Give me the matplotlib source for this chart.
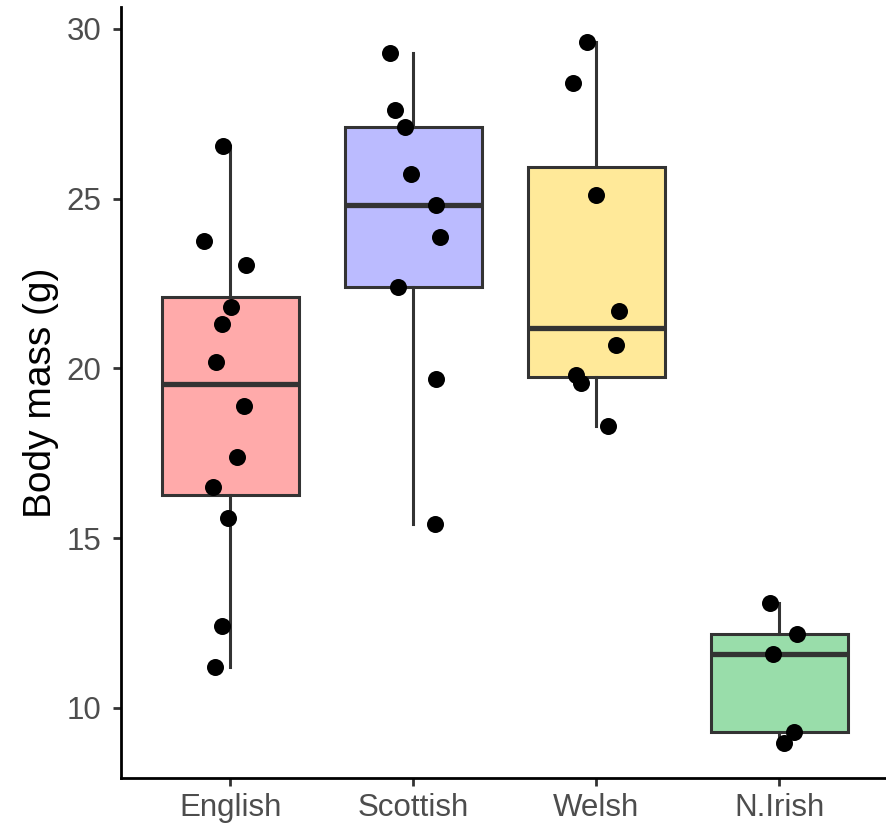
import matplotlib
matplotlib.use("Agg")
import matplotlib.pyplot as plt

plt.rcParams['font.family'] = ['Liberation Sans', 'DejaVu Sans']

categories = ["English", "Scottish", "Welsh", "N.Irish"]
fill_colors = ["#FFAAAA", "#BBBBFF", "#FFE999", "#99DDAA"]

english_mass = [26.55, 23.75, 23.05, 21.8, 21.3, 20.2, 18.9, 17.4, 16.5, 15.6, 12.4, 11.2]
english_jitter = [-0.042, -0.142, 0.084, 0.004, -0.047, -0.080, 0.075, 0.035, -0.093, -0.011, -0.047, -0.084]

scottish_mass = [29.30, 27.61, 27.10, 25.72, 24.80, 23.88, 22.41, 19.69, 15.42]
scottish_jitter = [-0.126, -0.102, -0.044, -0.012, 0.124, 0.148, -0.086, 0.126, 0.120]

welsh_mass = [29.61, 28.40, 25.11, 21.69, 20.69, 19.81, 19.58, 18.31]
welsh_jitter = [-0.052, -0.125, 0.001, 0.125, 0.107, -0.108, -0.085, 0.065]

nirish_mass = [13.08, 12.18, 11.59, 9.28, 8.96]
nirish_jitter = [-0.049, 0.100, -0.036, 0.082, 0.027]

y_ticks = [10, 15, 20, 25, 30]
y_label = "Body mass (g)"

groups = [english_mass, scottish_mass, welsh_mass, nirish_mass]
jitters = [english_jitter, scottish_jitter, welsh_jitter, nirish_jitter]

fig = plt.figure(figsize=(8.87, 8.26), dpi=100)
ax = fig.add_axes([0.1361, 0.0581, 0.866, 0.9331])

positions = list(range(1, len(categories) + 1))
edge = "#333333"
bp = ax.boxplot(groups, positions=positions, widths=0.75, patch_artist=True,
                showcaps=False, showfliers=False, whis=1.5,
                boxprops=dict(edgecolor=edge, linewidth=2.2),
                whiskerprops=dict(color=edge, linewidth=2.2),
                medianprops=dict(color=edge, linewidth=3.8, solid_capstyle='butt'),
                zorder=2)
for patch, c in zip(bp['boxes'], fill_colors):
    patch.set_facecolor(c)

for pos, vals, jit in zip(positions, groups, jitters):
    xs = [pos + j for j in jit]
    ax.scatter(xs, vals, s=150, color="black", zorder=3, linewidths=0)

ax.set_xlim(0.4, 4.6)
ax.set_ylim(7.93, 30.64)
ax.set_xticks(positions)
ax.set_xticklabels(categories)
ax.set_yticks(y_ticks)
ax.set_ylabel(y_label, fontsize=28, color="black", labelpad=5)

for side in ["top", "right"]:
    ax.spines[side].set_visible(False)
for side in ["left", "bottom"]:
    ax.spines[side].set_linewidth(2.0)
    ax.spines[side].set_color("black")
ax.tick_params(axis='both', which='major', length=6, width=2.0, color="#333333",
               labelsize=22.5, labelcolor="#4D4D4D")
ax.tick_params(axis='y', pad=8)
ax.tick_params(axis='x', pad=5)

fig.savefig("out.png", dpi=100)
